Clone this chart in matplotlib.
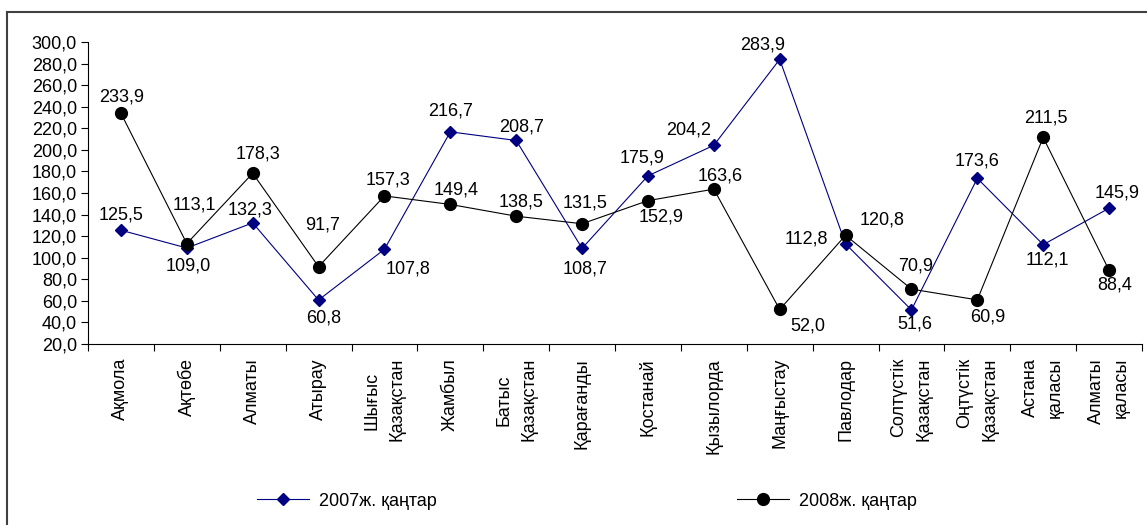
import matplotlib
matplotlib.use("Agg")
import matplotlib.pyplot as plt
from matplotlib.lines import Line2D

plt.rcParams['font.family'] = ['Liberation Sans', 'DejaVu Sans']
plt.rcParams['font.size'] = 13

categories = ["Ақмола", "Ақтөбе", "Алматы", "Атырау", "Шығыс\nҚазақстан",
              "Жамбыл", "Батыс\nҚазақстан", "Қарағанды", "Қостанай",
              "Қызылорда", "Маңғыстау", "Павлодар", "Солтүстік\nҚазақстан",
              "Оңтүстік\nҚазақстан", "Астана\nқаласы", "Алматы\nқаласы"]
series_2007 = [125.5, 109.0, 132.3, 60.8, 107.8, 216.7, 208.7, 108.7, 175.9,
               204.2, 283.9, 112.8, 51.6, 173.6, 112.1, 145.9]
series_2008 = [233.9, 113.1, 178.3, 91.7, 157.3, 149.4, 138.5, 131.5, 152.9,
               163.6, 52.0, 120.8, 70.9, 60.9, 211.5, 88.4]
labels_names = ["2007ж. қаңтар", "2008ж. қаңтар"]
y_ticks = list(range(20, 301, 20))

# label offsets in pixels (dx, dy) relative to each point
off_2007 = [(0, 15), (1, -18), (-3, 13), (5, -18), (24, -20), (0, 21), (5, 13),
            (3, -21), (-6, 18), (-25, 15), (-17, 14), (-39, 5), (3, -14),
            (0, 17), (4, -15), (8, 15)]
off_2008 = [(1, 16), (8, 39), (5, 19), (4, 42), (4, 16), (6, 14), (5, 14),
            (3, 21), (13, -16), (6, 13), (28, -17), (37, 15), (4, 23),
            (10, -17), (3, 19), (6, -15)]
# extra downward shift (px) of the first line of wrapped category labels
first_line_shift = [0, 0, 0, 0, 14, 0, 17, 0, 0, 0, 0, 0, 0, 0, 0, 0]

W, H = 1147, 525
fig = plt.figure(figsize=(W / 100, H / 100), dpi=100)
ax = fig.add_axes([88 / W, 1 - 344 / H, (1142 - 88) / W, (344 - 42) / H])

xs = [i + 0.5 for i in range(len(categories))]
navy = "#000080"
ax.plot(xs, series_2007, color=navy, lw=0.8, marker='D', ms=6.3,
        markerfacecolor=navy, markeredgecolor=navy, zorder=3)
ax.plot(xs, series_2008, color='black', lw=0.8, marker='o', ms=8.5,
        markerfacecolor='black', markeredgecolor='black', zorder=3)

def fmt(v):
    return f"{v:.1f}".replace('.', ',')

for x, v, (dx, dy) in zip(xs, series_2007, off_2007):
    ax.annotate(fmt(v), (x, v), xytext=(dx, dy), textcoords='offset pixels',
                ha='center', va='center', fontsize=13, zorder=4)
for x, v, (dx, dy) in zip(xs, series_2008, off_2008):
    ax.annotate(fmt(v), (x, v), xytext=(dx, dy), textcoords='offset pixels',
                ha='center', va='center', fontsize=13, zorder=4)

ax.set_xlim(0, len(categories))
ax.set_ylim(20, 300)
ax.set_yticks(y_ticks)
ax.set_yticklabels([fmt(v) for v in y_ticks])
ax.set_xticks(range(len(categories) + 1))
ax.set_xticklabels([])
ax.tick_params(axis='x', which='major', length=5, width=0.8, direction='out')
ax.tick_params(axis='y', length=5, width=0.8, direction='out', pad=3)
for s in ['top', 'right']:
    ax.spines[s].set_visible(False)
for s in ['left', 'bottom']:
    ax.spines[s].set_linewidth(0.8)

# category labels, rotated, each line top-aligned below the axis
line_gap = 25  # px between wrapped lines
trans = ax.get_xaxis_transform()
for x, cat, sh in zip(xs, categories, first_line_shift):
    lines = cat.split("\n")
    n = len(lines)
    for i, ln in enumerate(lines):
        dx = (i - (n - 1) / 2) * line_gap
        dy = -14 - (sh if i == 0 else 0)
        ax.annotate(ln, (x, 0), xycoords=trans, xytext=(dx, dy),
                    textcoords='offset pixels', rotation=90, ha='center',
                    va='top', fontsize=13, annotation_clip=False)

handles = [Line2D([], [], color=navy, lw=0.8, marker='D', ms=6.3,
                  markerfacecolor=navy, markeredgecolor=navy),
           Line2D([], [], color='black', lw=0.8, marker='o', ms=8.5,
                  markerfacecolor='black', markeredgecolor='black')]
fig.legend(handles, labels_names, loc='center', bbox_to_anchor=(587 / W, 1 - 501 / H),
           ncol=2, frameon=False, handlelength=2.9, handletextpad=0.55,
           columnspacing=16.6, fontsize=13, borderpad=0, borderaxespad=0)

# outer frame
fig.add_artist(Line2D([7 / W, 7 / W], [0, 1 - 12 / H], transform=fig.transFigure,
                      color='#404040', lw=1.5))
fig.add_artist(Line2D([7 / W, 1], [1 - 12 / H, 1 - 12 / H], transform=fig.transFigure,
                      color='#404040', lw=1.5))

fig.savefig("out.png", dpi=100)
